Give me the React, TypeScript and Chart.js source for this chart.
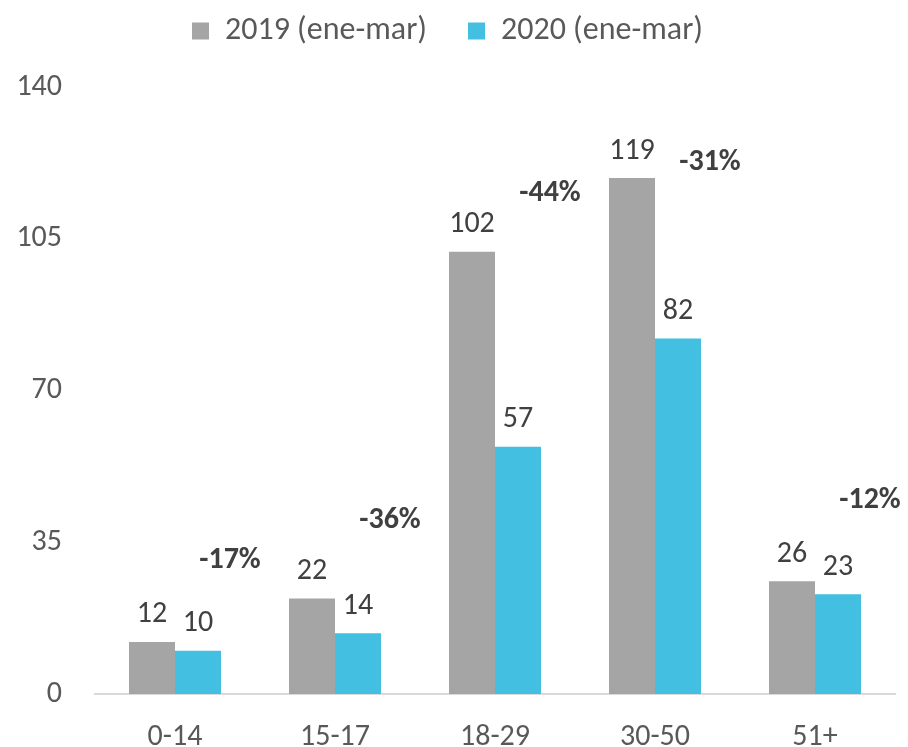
import React, { useEffect, useRef } from "react";
import { Chart, registerables } from "chart.js";

Chart.register(...registerables);

const categories = ["0-14", "15-17", "18-29", "30-50", "51+"];
const series2019 = [12, 22, 102, 119, 26];
const series2020 = [10, 14, 57, 82, 23];
const seriesNames = ["2019 (ene-mar)", "2020 (ene-mar)"];
const pctLabels = ["-17%", "-36%", "-44%", "-31%", "-12%"];
const pctLabelLevel = [31.4, 40.8, 116.2, 123.2, 45.4];
const yTicks = [0, 35, 70, 105, 140];

const FONT = "Carlito, Calibri, Lato, 'Open Sans', sans-serif";
const FS = 30;
const LEG_FS = 32;
const LEG_PAD = 41;
const GRAY = "#A5A5A5";
const BLUE = "#43BFE2";
const TEXT = "#595959";
const DARK = "#404040";

const labelsPlugin = {
  id: "customLabels",
  afterInit(chart: any) {
    const lg = chart.legend;
    if (lg) {
      const fit = lg.fit;
      lg.fit = function () {
        fit.call(this);
        this.height = 87;
      };
      const draw = lg.draw;
      lg.draw = function () {
        const ctx = this.ctx;
        ctx.save();
        ctx.translate(0, -26);
        draw.call(this);
        ctx.restore();
      };
    }
  },
  afterDatasetsDraw(chart: any) {
    const ctx = chart.ctx;
    ctx.save();
    ctx.font = `${FS}px ${FONT}`;
    ctx.fillStyle = DARK;
    ctx.textAlign = "center";
    ctx.textBaseline = "middle";
    chart.data.datasets.forEach((ds: any, di: number) => {
      const meta = chart.getDatasetMeta(di);
      meta.data.forEach((bar: any, i: number) => {
        ctx.fillText(String(ds.data[i]), bar.x, bar.y - 27);
      });
    });
    const xs = chart.scales.x;
    const ys = chart.scales.y;
    ctx.font = `bold ${FS}px ${FONT}`;
    pctLabels.forEach((t, i) => {
      const cx = xs.getPixelForValue(i) + 55;
      const cy = ys.getPixelForValue(pctLabelLevel[i]) + 3;
      ctx.fillText(t, cx, cy);
    });
    ctx.restore();
  },
};

export default function App() {
  const ref = useRef<HTMLCanvasElement | null>(null);
  useEffect(() => {
    if (!ref.current) return;
    const chart = new Chart(ref.current, {
      type: "bar",
      data: {
        labels: categories,
        datasets: [
          { label: seriesNames[0], data: series2019, backgroundColor: GRAY, categoryPercentage: 0.575, barPercentage: 1 },
          { label: seriesNames[1], data: series2020, backgroundColor: BLUE, categoryPercentage: 0.575, barPercentage: 1 },
        ],
      },
      options: {
        animation: false,
        responsive: true,
        maintainAspectRatio: false,
        layout: { padding: { left: 0, right: 13, top: 0, bottom: 0 } },
        plugins: {
          legend: {
            position: "top",
            labels: {
              font: { family: FONT, size: LEG_FS },
              color: TEXT,
              boxWidth: 17,
              boxHeight: 17,
              padding: LEG_PAD,
            },
          },
          tooltip: { enabled: false },
        },
        scales: {
          x: {
            grid: { display: false, drawTicks: false },
            border: { display: true, color: "#D9D9D9", width: 2 },
            ticks: { font: { family: FONT, size: FS }, color: TEXT, padding: 25 },
            afterFit: (s: any) => { s.height = 53; },
          },
          y: {
            min: 0,
            max: 140,
            afterBuildTicks: (s: any) => { s.ticks = yTicks.map((v) => ({ value: v })); },
            grid: { display: false, drawTicks: false },
            border: { display: false },
            ticks: { font: { family: FONT, size: FS }, color: TEXT, padding: 33 },
            afterFit: (s: any) => { s.width = 95; },
          },
        },
      },
      plugins: [labelsPlugin],
    });
    return () => chart.destroy();
  }, []);
  return (
    <div style={{ position: "fixed", left: 0, top: 0, width: 908, height: 747, background: "#fff" }}>
      <canvas ref={ref} />
    </div>
  );
}
